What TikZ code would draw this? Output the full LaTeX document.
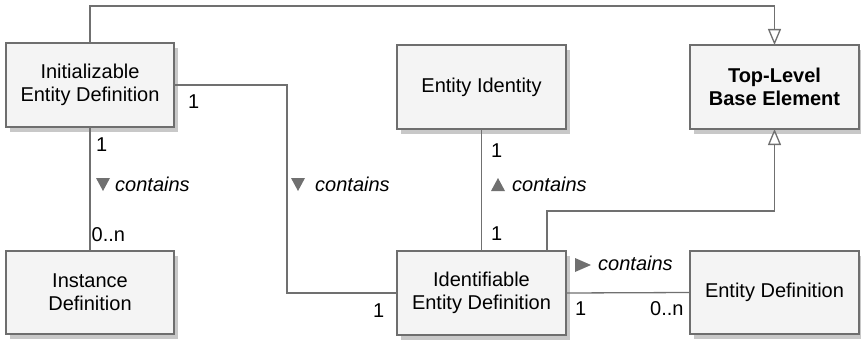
\documentclass[tikz,border=0pt]{standalone}
\usepackage{fontspec}
\setmainfont{Liberation Sans}
\usetikzlibrary{arrows.meta,shadows}

\definecolor{boxfill}{HTML}{F4F4F4}
\definecolor{boxline}{HTML}{6E6E6E}
\definecolor{wire}{HTML}{707070}
\definecolor{shade}{HTML}{C8C8C8}

\begin{document}
\begin{tikzpicture}[x=1pt,y=-1pt,
  cls/.style={draw=boxline, line width=1.4pt, fill=boxfill, anchor=north west,
    minimum width=168pt, minimum height=84pt, inner sep=0pt, outer sep=0pt,
    align=center, text=black, font=\fontsize{20}{23}\selectfont,
    drop shadow={shadow xshift=4pt, shadow yshift=-5pt, fill=shade, opacity=1}},
  wireline/.style={draw=wire, line width=1.3pt},
  inherit/.style={wireline, -{Triangle[open, length=16pt, width=13pt, line width=1.3pt]}},
  mult/.style={font=\fontsize{20}{23}\selectfont, inner sep=0pt, anchor=base west, text=black},
  role/.style={font=\fontsize{20}{23}\selectfont\itshape, inner sep=0pt, anchor=base west, text=black},
  navtip/.style={fill=wire}
]
\useasboundingbox (0,0) rectangle (861,342);

% classes
\node[cls] (init)  at (6,43)   {Initializable\\Entity Definition};
\node[cls, minimum height=83pt] (inst) at (6,251) {Instance\\Definition};
\node[cls, minimum width=169pt] (ident) at (397,45)  {Entity Identity};
\node[cls, minimum width=169pt] (idef)  at (397,251) {Identifiable\\Entity Definition};
\node[cls, minimum width=169pt, font=\fontsize{20}{23}\selectfont\bfseries] (top) at (690,45) {Top-Level\\Base Element};
\node[cls, minimum width=169pt, minimum height=83pt] (edef) at (690,251) {Entity Definition};

% routing helpers
\coordinate (topbar) at (0,6);
\coordinate (midbar) at (0,211);
\coordinate (jog) at (287,0);

% generalisations
\draw[inherit] (init.north) |- (topbar -| top.north) -- (top.north);
\draw[inherit] ([xshift=-19pt]idef.north east) |- (midbar -| top.south) -- (top.south);

% associations
\draw[wireline] (init.south) -- (inst.north);
\draw[wireline] (init.east) -| (jog |- idef.west) -- (idef.west);
\draw[wireline] (ident.south) -- (idef.north);
\draw[wireline] (idef.east) -- (edef.west);

% multiplicities
\node[mult] (m1) at (188,109) {1};
\node[mult] (m2) at (96,151) {1};
\node[mult] (m3) at (91.5,241) {0..n};
\node[mult] (m4) at (373,317) {1};
\node[mult] (m5) at (491,157) {1};
\node[mult] (m6) at (491,240) {1};
\node[mult] (m7) at (575,315) {1};
\node[mult] (m8) at (650,315) {0..n};

% association names with reading direction
\fill[navtip] (96,178) -- (110,178) -- (103,191) -- cycle;
\node[role] (r1) at (115,191) {contains};
\fill[navtip] (291,178) -- (305,178) -- (298,191) -- cycle;
\node[role] (r2) at (315,191) {contains};
\fill[navtip] (491,191) -- (505,191) -- (498,178) -- cycle;
\node[role] (r3) at (512,191) {contains};
\fill[navtip] (575,258) -- (575,272) -- (591,265) -- cycle;
\node[role] (r4) at (598,270) {contains};
\end{tikzpicture}
\end{document}
